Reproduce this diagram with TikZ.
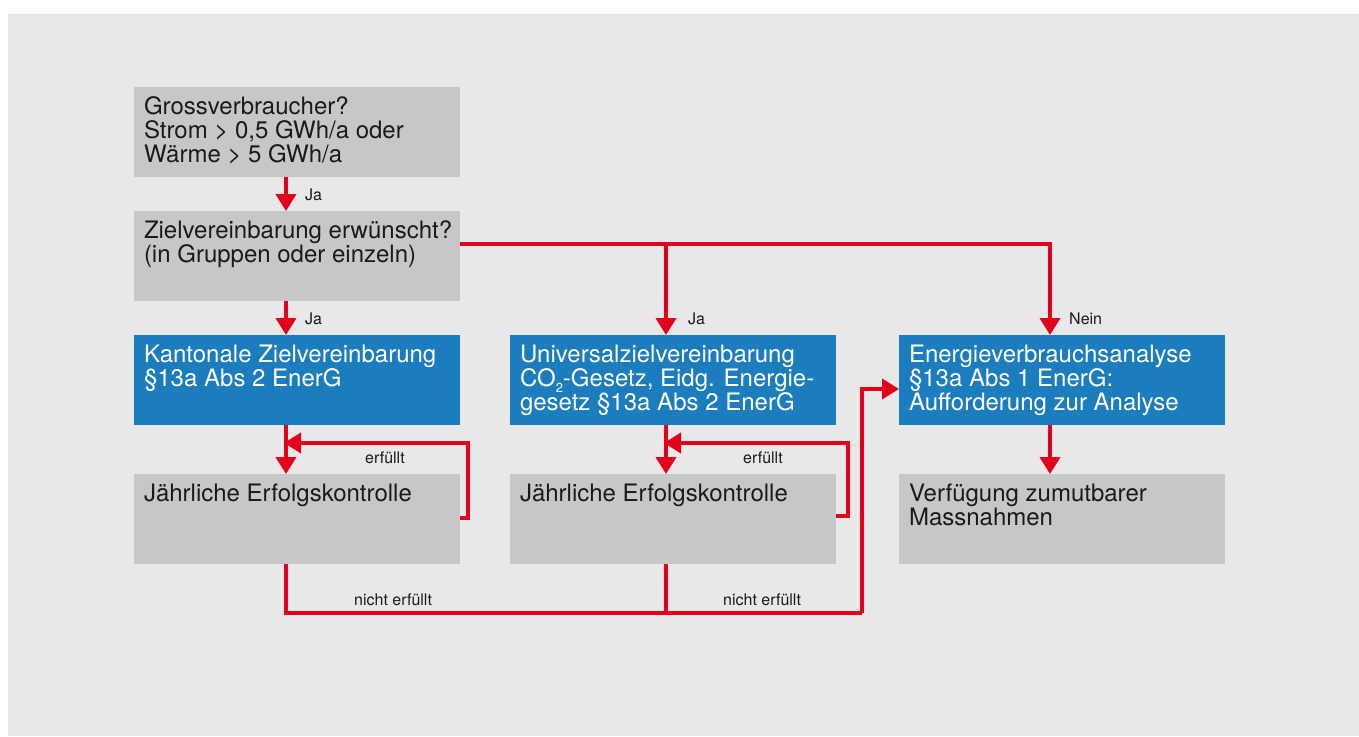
\documentclass[tikz,border=0pt]{standalone}
\usepackage{fontspec}
\setmainfont{TeX Gyre Heros}
\usetikzlibrary{calc,arrows.meta}
\definecolor{bg}{HTML}{E8E8E8}
\definecolor{boxgray}{HTML}{C6C7C9}
\definecolor{boxblue}{HTML}{1B7DBE}
\definecolor{flowred}{HTML}{E2001A}
\definecolor{ink}{HTML}{1A1A1A}
\newcommand{\boxtext}[1]{\parbox[c][90pt][t]{306pt}{\raggedright\rule{0pt}{27pt}#1}}
\newcommand{\lowtwo}{\raisebox{-6pt}{\fontsize{13}{13}\selectfont 2}}
\tikzset{
  box/.style={anchor=north west, inner xsep=10pt, inner ysep=0pt, outer sep=0pt,
    font={\fontsize{24}{24}\selectfont\lineskiplimit=-30pt}},
  grey/.style={box, fill=boxgray, text=ink},
  blue/.style={box, fill=boxblue, text=white},
  line/.style={draw=flowred, line width=4pt, line join=miter},
  flow/.style={line, -{Triangle[length=17pt,width=20pt]}},
  lab/.style={anchor=base west, inner sep=0pt, text=ink, font=\fontsize{16}{18}\selectfont},
}

\begin{document}
\begin{tikzpicture}[x=1pt, y=-1pt]
  \fill[white] (0,0) rectangle (1359,736);
  \fill[bg] (8,14) rectangle (1359,736);
  \useasboundingbox (0,0) rectangle (1359,736);

  \node[grey] (gross) at (134,87) {\boxtext{Grossverbraucher?\\Strom > 0,5 GWh/a oder\\Wärme > 5 GWh/a}};
  \node[grey] (ziel) at (134,211) {\boxtext{\mbox{Zielvereinbarung erwünscht?}\\(in Gruppen oder einzeln)}};
  \node[blue] (kant) at (134,335) {\boxtext{Kantonale Zielvereinbarung\\§13a Abs 2 EnerG}};
  \node[grey] (kontrA) at (134,474) {\boxtext{Jährliche Erfolgskontrolle}};
  \node[blue] (univ) at (510,335) {\boxtext{Universalzielvereinbarung\\CO\lowtwo-Gesetz, Eidg. Energie-\\gesetz §13a Abs 2 EnerG}};
  \node[grey] (kontrB) at (510,474) {\boxtext{Jährliche Erfolgskontrolle}};
  \node[blue] (analyse) at (899,335) {\boxtext{Energieverbrauchsanalyse\\§13a Abs 1 EnerG:\\Aufforderung zur Analyse}};
  \node[grey] (verf) at (899,474) {\boxtext{Verfügung zumutbarer\\Massnahmen}};

  \coordinate (colA) at (286,613);
  \coordinate (colB) at (666,613);
  \coordinate (colC) at (1050,244);
  \coordinate (botR) at (862,613);
  \coordinate (loopA) at (468,443);
  \coordinate (loopB) at (848,443);

  \draw[flow] (gross.south -| colA) -- (ziel.north -| colA);
  \draw[flow] (ziel.south -| colA) -- (kant.north -| colA);
  \draw[flow] (kant.south -| colA) -- (kontrA.north -| colA);
  \draw[flow] (univ.south -| colB) -- (kontrB.north -| colB);
  \draw[flow] (analyse.south -| colC) -- (verf.north -| colC);
  \draw[flow] (ziel.east |- colC) -| (analyse.north -| colC);
  \draw[flow] (colB |- colC) -- (univ.north -| colB);
  \draw[flow, shorten >=-2pt] ([yshift=-44pt]kontrA.north east) -| (loopA) -- (loopA -| colA);
  \draw[flow, shorten >=-2pt] ([yshift=-42pt]kontrB.north east) -| (loopB) -- (loopB -| colB);
  \draw[line] (kontrA.south -| colA) -- (colA) -- (botR);
  \draw[line] (kontrB.south -| colB) -- (colB);
  \draw[flow] (botR) |- ([yshift=-9pt]analyse.west);

  \node[lab] (jaA) at (305,200) {Ja};
  \node[lab] (jaB) at (305,324) {Ja};
  \node[lab] (jaC) at (688,324) {Ja};
  \node[lab] (nein) at (1069,324) {Nein};
  \node[lab] (okA) at (365,463) {erfüllt};
  \node[lab] (okB) at (743,463) {erfüllt};
  \node[lab] (failA) at (354,605) {nicht erfüllt};
  \node[lab] (failB) at (723,605) {nicht erfüllt};
\end{tikzpicture}
\end{document}
